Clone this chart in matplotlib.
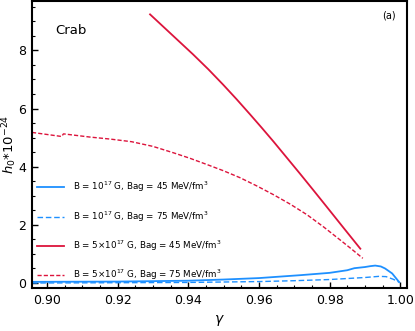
import numpy as np
import matplotlib
matplotlib.use("Agg")
import matplotlib.pyplot as plt
from matplotlib.ticker import MultipleLocator, FormatStrFormatter

# B = 1e17 G, Bag = 45 (blue solid)
g_b45 = [0.8958, 0.92, 0.94, 0.95, 0.96, 0.9717, 0.98, 0.985, 0.987, 0.99, 0.9915, 0.9929, 0.9945, 0.9957, 0.9977, 0.9997]
h_b45 = [0.04, 0.05, 0.08, 0.12, 0.17, 0.27, 0.35, 0.44, 0.51, 0.55, 0.58, 0.60, 0.57, 0.50, 0.33, 0.03]

# B = 1e17 G, Bag = 75 (blue dashed)
g_b75 = [0.8958, 0.94, 0.96, 0.97, 0.98, 0.99, 0.994, 0.996, 0.998, 0.9997]
h_b75 = [0.0, 0.02, 0.05, 0.08, 0.12, 0.19, 0.23, 0.22, 0.13, 0.03]

# B = 5e17 G, Bag = 45 (red solid)
g_r45 = [0.9292, 0.9353, 0.9414, 0.9457, 0.9499, 0.9537, 0.9575, 0.9608, 0.9641, 0.9679, 0.9717, 0.9755, 0.9792, 0.984, 0.9887]
h_r45 = [9.24, 8.55, 7.86, 7.35, 6.82, 6.32, 5.80, 5.34, 4.87, 4.31, 3.75, 3.18, 2.62, 1.89, 1.18]

# B = 5e17 G, Bag = 75 (red dashed)
g_r75 = [0.8958, 0.9042, 0.9047, 0.9122, 0.918, 0.924, 0.930, 0.9358, 0.9405, 0.9452, 0.95, 0.9547, 0.9594, 0.9641, 0.9689, 0.9736, 0.9783, 0.983, 0.9862, 0.9894]
h_r75 = [5.18, 5.04, 5.13, 5.02, 4.95, 4.86, 4.70, 4.48, 4.29, 4.08, 3.86, 3.62, 3.34, 3.04, 2.71, 2.35, 1.93, 1.48, 1.17, 0.85]

labels = [r'B = 10$^{17}$ G, Bag = 45 MeV/fm$^3$',
          r'B = 10$^{17}$ G, Bag = 75 MeV/fm$^3$',
          r'B = 5$\times$10$^{17}$ G, Bag = 45 MeV/fm$^3$',
          r'B = 5$\times$10$^{17}$ G, Bag = 75 MeV/fm$^3$']

blue = '#1e90ff'
red = '#dc143c'

fig = plt.figure(figsize=(4.15, 3.31), dpi=100)
ax = fig.add_axes([0.0771, 0.13, 0.9036, 0.867])

ax.plot(g_b45, h_b45, color=blue, lw=1.3, label=labels[0])
ax.plot(g_b75, h_b75, color=blue, lw=1.0, dashes=(4, 2), label=labels[1])
ax.plot(g_r45, h_r45, color=red, lw=1.3, label=labels[2])
ax.plot(g_r75, h_r75, color=red, lw=1.0, dashes=(3, 1.5), label=labels[3])

ax.set_xlim(0.8958, 1.0019)
ax.set_ylim(-0.17, 9.70)
ax.xaxis.set_major_locator(MultipleLocator(0.02))
ax.xaxis.set_minor_locator(MultipleLocator(0.005))
ax.yaxis.set_major_locator(MultipleLocator(2))
ax.yaxis.set_minor_locator(MultipleLocator(0.5))
ax.xaxis.set_major_formatter(FormatStrFormatter('%.2f'))
ax.tick_params(which='both', direction='in', top=False, right=False, labelsize=9, pad=4)
ax.tick_params(which='major', length=4, width=1)
ax.tick_params(which='minor', length=2.5, width=0.8)
for s in ax.spines.values():
    s.set_linewidth(1.5)

ax.set_xlabel(r'$\gamma$', fontsize=10, labelpad=5)
ax.set_ylabel(r'$h_0$*10$^{-24}$', fontsize=9.5)
ax.yaxis.set_label_coords(-0.035, 0.5)

ax.text(0.061, 0.898, 'Crab', transform=ax.transAxes, fontsize=9.5, va='center')
ax.text(0.933, 0.948, '(a)', transform=ax.transAxes, fontsize=7, va='center')

ax.legend(loc='lower left', bbox_to_anchor=(0.0, 0.002), frameon=False, fontsize=6.3,
          handlelength=3.1, handletextpad=1.0, labelspacing=1.7, borderaxespad=0.2)

fig.savefig('out.png', dpi=100)
